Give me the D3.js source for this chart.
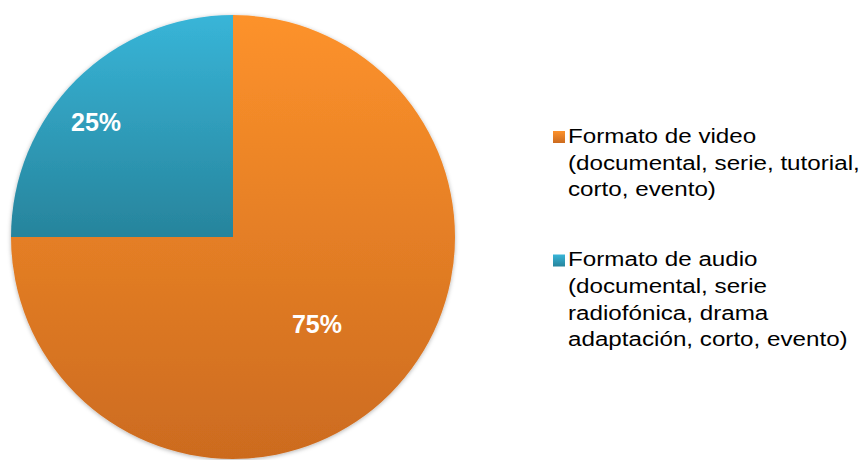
<!DOCTYPE html>
<html><head><meta charset="utf-8">
<script src="https://cdn.jsdelivr.net/npm/d3@7"></script>
<style>body{margin:0;background:#fff}svg{display:block}</style>
</head><body>
<svg id="c" width="862" height="460"></svg>
<script>
const categories = ["Formato de video", "Formato de audio"];
const legendLines = [
  ["Formato de video", "(documental, serie, tutorial,", "corto, evento)"],
  ["Formato de audio", "(documental, serie", "radiofónica, drama", "adaptación, corto, evento)"]
];
const values = [75, 25];
const labels = ["75%", "25%"];

const svg = d3.select("#c");
const defs = svg.append("defs");
const grads = [["#fd922b", "#cc6b1f"], ["#38b5d8", "#27849c"]];
grads.forEach((g, i) => {
  const lg = defs.append("linearGradient").attr("id", "g" + i)
    .attr("x1", 0).attr("y1", 0).attr("x2", 0).attr("y2", 1);
  lg.append("stop").attr("offset", 0).attr("stop-color", g[0]);
  lg.append("stop").attr("offset", 1).attr("stop-color", g[1]);
});
const f = defs.append("filter").attr("id", "sh").attr("x", "-10%").attr("y", "-10%").attr("width", "120%").attr("height", "120%");
f.append("feDropShadow").attr("dx", 0).attr("dy", 1).attr("stdDeviation", 2).attr("flood-color", "#000").attr("flood-opacity", 0.3);

const cx = 233, cy = 237, r = 222;
const pie = d3.pie().sort(null).value(d => d);
const arcs = pie(values);
const arc = d3.arc().innerRadius(0).outerRadius(r);
const g = svg.append("g").attr("transform", `translate(${cx},${cy})`);
g.append("g").attr("filter", "url(#sh)").selectAll("path").data(arcs).join("path")
  .attr("d", arc).attr("fill", (d, i) => `url(#g${i})`);

const labelPos = [[84, 96], [-137, -106]];
g.selectAll("text.lbl").data(arcs).join("text").attr("class", "lbl")
  .attr("x", (d, i) => labelPos[i][0]).attr("y", (d, i) => labelPos[i][1])
  .attr("text-anchor", "middle")
  .attr("font-family", "Liberation Sans, Arial, sans-serif").attr("font-weight", "bold")
  .attr("font-size", 25).attr("fill", "#fff")
  .text((d, i) => labels[i]);

const legendTops = [143, 266.5];
const lgd = svg.append("g");
categories.forEach((c, i) => {
  const it = lgd.append("g");
  it.append("rect").attr("x", 553).attr("y", legendTops[i] - 12).attr("width", 12).attr("height", 12)
    .attr("fill", `url(#g${i})`);
  it.append("text").attr("font-family", "Liberation Sans, Arial, sans-serif").attr("font-size", 20)
    .attr("fill", "#000").attr("transform", "translate(568,0) scale(1.21,1)")
    .selectAll("tspan").data(legendLines[i]).join("tspan")
    .attr("x", 0).attr("y", (d, j) => legendTops[i] + j * 26.6).text(d => d);
});
</script>
</body></html>
